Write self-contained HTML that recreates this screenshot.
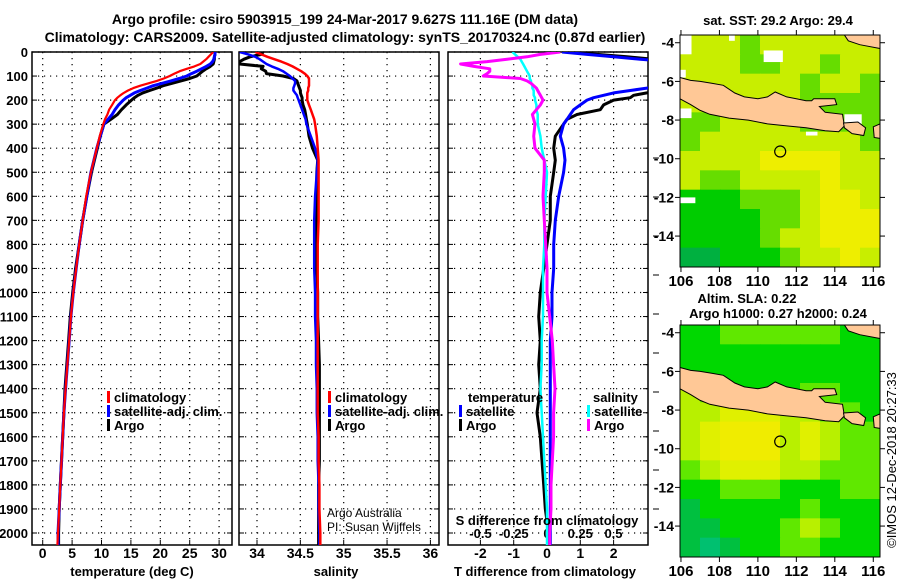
<!DOCTYPE html>
<html><head><meta charset="utf-8">
<style>
html,body{margin:0;padding:0;background:#fff;}
svg{display:block;font-family:"Liberation Sans",sans-serif;}
.b{font-weight:bold;}
</style></head>
<body>
<svg id="fig" width="900" height="580" viewBox="0 0 900 580" xmlns="http://www.w3.org/2000/svg">
<text x="345" y="24" text-anchor="middle" font-size="14" class="b">Argo profile: csiro 5903915_199 24-Mar-2017 9.627S 111.16E (DM data)</text>
<text x="345" y="42" text-anchor="middle" font-size="14" class="b">Climatology: CARS2009. Satellite-adjusted climatology: synTS_20170324.nc (0.87d earlier)</text>
<g id="g"></g>
</svg>
<script>
// ---------- profile data ----------
const depthLevels = [0,10,20,30,40,50,60,70,80,90,100,110,120,130,140,150,160,170,180,190,200,220,240,260,280,300,350,400,450,500,600,700,800,900,1000,1100,1200,1300,1400,1500,1600,1700,1800,1900,2000,2050];
const tempClim = [29.0,28.6,28.2,27.8,27.3,26.8,25.8,24.5,23.3,22.4,21.6,20.6,19.4,18.0,16.6,15.4,14.5,13.8,13.2,12.7,12.3,11.8,11.3,11.0,10.6,10.3,9.7,9.2,8.7,8.2,7.4,6.8,6.2,5.7,5.2,4.8,4.5,4.2,3.9,3.6,3.4,3.2,3.0,2.8,2.6,2.5];
const tempSat = [29.3,29.3,29.2,29.1,28.9,28.5,27.8,27.0,26.2,25.3,24.5,23.2,21.8,20.3,18.8,17.7,16.6,15.6,14.9,14.2,13.7,12.9,12.3,11.8,11.1,10.4,9.8,9.2,8.7,8.2,7.5,6.8,6.2,5.7,5.2,4.8,4.5,4.2,3.9,3.6,3.4,3.2,3.0,2.8,2.6,2.6];
const tempArgo = [29.3,29.3,29.2,29.2,29.1,29.0,28.5,27.8,27.2,26.7,26.2,25.0,23.5,22.0,20.5,19.4,18.2,17.0,16.2,15.6,15.1,14.2,13.4,12.7,11.6,10.4,9.8,9.3,8.8,8.3,7.5,6.8,6.2,5.6,5.1,4.7,4.4,4.1,3.8,3.6,3.4,3.2,3.0,2.8,2.7,2.7];
const salClim = [33.98,34.05,34.12,34.20,34.28,34.35,34.41,34.46,34.51,34.55,34.58,34.60,34.60,34.60,34.60,34.59,34.59,34.58,34.58,34.58,34.58,34.60,34.62,34.64,34.66,34.67,34.69,34.70,34.71,34.71,34.71,34.71,34.70,34.70,34.70,34.70,34.70,34.70,34.70,34.70,34.71,34.71,34.72,34.72,34.73,34.73];
const salSat = [33.80,33.90,33.98,34.03,34.07,34.11,34.17,34.24,34.30,34.34,34.38,34.41,34.44,34.44,34.43,34.42,34.42,34.44,34.46,34.47,34.48,34.50,34.52,34.54,34.56,34.57,34.62,34.67,34.70,34.69,34.67,34.66,34.66,34.66,34.67,34.67,34.68,34.68,34.69,34.69,34.70,34.70,34.71,34.71,34.72,34.72];
const salArgo = [34.07,34.05,33.92,33.85,33.80,33.80,34.07,34.05,34.10,34.11,34.30,34.42,34.46,34.47,34.48,34.49,34.50,34.50,34.51,34.52,34.52,34.53,34.55,34.56,34.57,34.58,34.60,34.64,34.70,34.69,34.69,34.68,34.69,34.69,34.70,34.70,34.71,34.72,34.72,34.72,34.72,34.72,34.71,34.71,34.71,34.71];
const tDiffSat = [0.45,1.2,2.0,2.8,3.6,4.0,4.0,4.0,4.0,4.0,4.0,4.0,4.0,4.0,4.0,3.0,2.5,2.0,1.7,1.4,1.2,1.0,0.8,0.7,0.6,0.5,0.4,0.5,0.54,0.5,0.35,0.25,0.2,0.2,0.15,0.15,0.1,0.1,0.1,0.1,0.1,0.1,0.1,0.1,0.1,0.1];
const tDiffArgo = [0.6,1.5,2.4,3.2,4.0,4.0,4.0,4.0,4.0,4.0,4.0,4.0,4.0,4.0,4.0,4.0,3.5,3.0,2.6,2.5,2.0,1.7,1.6,0.9,0.6,0.5,0.25,0.2,0.25,0.2,0.1,0.1,0.0,-0.1,-0.2,-0.25,-0.2,-0.25,-0.2,-0.3,-0.2,-0.15,-0.1,-0.05,0.05,0.05];
const sDiffSat = [-0.26,-0.24,-0.22,-0.20,-0.19,-0.18,-0.17,-0.16,-0.15,-0.14,-0.13,-0.13,-0.12,-0.12,-0.11,-0.11,-0.10,-0.10,-0.10,-0.09,-0.09,-0.08,-0.08,-0.07,-0.07,-0.07,-0.05,-0.04,-0.02,0.0,-0.01,-0.02,-0.02,-0.03,-0.03,-0.03,-0.04,-0.04,-0.05,-0.04,-0.03,-0.02,-0.01,0.0,0.0,0.0];
const sDiffArgo = [0.10,-0.05,-0.15,-0.30,-0.45,-0.65,-0.55,-0.43,-0.43,-0.45,-0.48,-0.20,-0.15,-0.12,-0.10,-0.08,-0.07,-0.06,-0.05,-0.04,-0.03,-0.05,-0.08,-0.11,-0.10,-0.09,-0.10,-0.09,-0.02,-0.02,-0.03,-0.02,-0.01,0.0,0.0,0.02,0.04,0.05,0.06,0.05,0.05,0.04,0.03,0.03,0.02,0.02];
const depthTicks = [0,100,200,300,400,500,600,700,800,900,1000,1100,1200,1300,1400,1500,1600,1700,1800,1900,2000];
const tempTicks = [0,5,10,15,20,25,30];
const salTicks = [34,34.5,35,35.5,36];
const salTickLabels = ["34","34.5","35","35.5","36"];
const tdTicks = [-2,-1,0,1,2];
const sdTicks = [-0.5,-0.25,0,0.25,0.5];
const sdTickLabels = ["-0.5","-0.25","0","0.25","0.5"];
// ---------- map data (values are colour classes) ----------
const mapLons = [106,108,110,112,114,116];
const mapLats = [-4,-6,-8,-10,-12,-14];
const sstGrid = [
[3,3,3,2,3,3,3,3,3,3],
[3,3,3,2,2,3,3,2,3,3],
[3,3,3,3,3,3,2,3,3,2],
[3,3,3,3,3,3,2,2,2,2],
[2,2,3,3,3,3,2,2,2,2],
[2,3,3,3,3,3,3,3,3,2],
[3,3,3,3,4,4,4,4,3,3],
[3,2,2,3,3,3,3,4,3,3],
[1,1,1,2,2,2,3,4,4,3],
[1,1,1,1,2,2,3,4,4,4],
[1,1,1,1,2,3,3,4,4,4],
[0,0,1,1,1,2,3,3,4,3]];
const slaGrid = [
[2,2,3,3,3,3,3,3,2,2],
[2,2,2,2,2,2,2,2,2,2],
[2,2,2,2,2,2,2,2,2,2],
[4,3,2,2,2,2,3,3,2,2],
[4,4,5,5,5,4,4,3,3,2],
[4,5,6,6,6,4,5,4,3,3],
[4,5,6,6,6,4,5,4,3,3],
[3,4,5,5,5,4,4,3,3,3],
[2,2,3,3,3,2,2,2,3,3],
[1,2,2,2,2,2,3,2,2,2],
[1,1,2,2,2,3,4,3,2,2],
[1,0,1,2,2,3,3,2,2,2]];

const NS="http://www.w3.org/2000/svg";
const G=document.getElementById('g');
function mk(tag,attrs,parent){const e=document.createElementNS(NS,tag);for(const k in attrs)e.setAttribute(k,attrs[k]);(parent||G).appendChild(e);return e;}
function txt(x,y,s,size,anchor,parent,bold){const t=mk('text',{x:x,y:y,'font-size':size,'text-anchor':anchor||'middle','font-weight':bold===false?'normal':'bold'},parent);t.textContent=s;return t;}

const TOP=52,BOT=545;
const yD=d=>TOP+d*0.2405;
const xT=v=>42.7+v*5.88;
const xS=v=>257+(v-34)*86.7;
const xTd=v=>547+v*33.3;
const xSd=v=>547+v*133;

function panel(name,x0,x1,vticks,xf,labels,labelY){
  const g=mk('g',{});
  
  
  const cp=mk('clipPath',{id:'cp-'+name},g);mk('rect',{x:x0,y:TOP,width:x1-x0,height:BOT-TOP},cp);
  depthTicks.forEach(d=>{const y=yD(d);
    const l=mk('line',{x1:x0,x2:x1,y1:y,y2:y,stroke:'#000','stroke-width':1.2,'stroke-dasharray':'1.2,4.8'},g);
    
    mk('line',{x1:x0,x2:x0+5,y1:y,y2:y,stroke:'#000'},g);mk('line',{x1:x1-5,x2:x1,y1:y,y2:y,stroke:'#000'},g);});
  vticks.forEach((v,i)=>{const x=xf(v);
    const l=mk('line',{x1:x,x2:x,y1:TOP,y2:BOT,stroke:'#000','stroke-width':1.2,'stroke-dasharray':'1.2,4.8'},g);
    
    mk('line',{x1:x,x2:x,y1:BOT-5,y2:BOT,stroke:'#000'},g);
    if(labels){const t=txt(x,labelY,labels[i],14,'middle',g);}});
  const fr=mk('rect',{x:x0,y:TOP,width:x1-x0,height:BOT-TOP,fill:'none',stroke:'#000','stroke-width':1.5},g);
  
  return g;
}
function series(g,clipName,vals,xf,color,w,name){
  const pts=vals.map((v,i)=>xf(v).toFixed(1)+','+yD(depthLevels[i]).toFixed(1)).join(' ');
  const p=mk('polyline',{points:pts,fill:'none',stroke:color,'stroke-width':w,'clip-path':'url(#cp-'+clipName+')','stroke-linejoin':'round'},g);
  
  
}
function legendItem(g,x,y,color,label){
  mk('rect',{x:x,y:y-11,width:3,height:12,fill:color},g);
  const t=txt(x+7,y,label,13,'start',g);
  
  
}

// Panel 1
const p1=panel('temperature-panel',32,232,tempTicks,xT,tempTicks.map(String),558);
depthTicks.forEach(d=>{const t=txt(28,yD(d)+5,String(d),13,'end',p1);});
series(p1,'temperature-panel',tempArgo,xT,'#000',3,'temp-argo-line');
series(p1,'temperature-panel',tempSat,xT,'#0000ff',3,'temp-satellite-line');
series(p1,'temperature-panel',tempClim,xT,'#ff0000',2.2,'temp-climatology-line');
legendItem(p1,107,402,'#ff0000','climatology');
legendItem(p1,107,416,'#0000ff','satellite-adj. clim.');
legendItem(p1,107,430,'#000','Argo');
let t=txt(132,576,'temperature (deg C)',13,'middle',p1);

// Panel 2
const p2=panel('salinity-panel',239,439,salTicks,xS,salTickLabels,558);
series(p2,'salinity-panel',salArgo,xS,'#000',3,'sal-argo-line');
series(p2,'salinity-panel',salSat,xS,'#0000ff',2.5,'sal-satellite-line');
series(p2,'salinity-panel',salClim,xS,'#ff0000',2.5,'sal-climatology-line');
legendItem(p2,328,402,'#ff0000','climatology');
legendItem(p2,328,416,'#0000ff','satellite-adj. clim.');
legendItem(p2,328,430,'#000','Argo');
t=txt(327,517,'Argo Australia',12,'start',p2,false);
t=txt(327,531,'PI: Susan Wijffels',12,'start',p2,false);
t=txt(336,576,'salinity',13,'middle',p2);

// Panel 3
const p3=panel('difference-panel',448,648,tdTicks,xTd,tdTicks.map(String),558);
sdTicks.forEach((v,i)=>{const tt=txt(xSd(v),538,sdTickLabels[i],13,'middle',p3);});
series(p3,'difference-panel',tDiffArgo,xTd,'#000',3,'tdiff-argo-line');
series(p3,'difference-panel',tDiffSat,xTd,'#0000ff',3,'tdiff-satellite-line');
series(p3,'difference-panel',sDiffSat,xSd,'#00ffff',2.5,'sdiff-satellite-line');
series(p3,'difference-panel',sDiffArgo,xSd,'#ff00ff',3,'sdiff-argo-line');
t=txt(468,402,'temperature',13,'start',p3);
legendItem(p3,459,416,'#0000ff','satellite');
legendItem(p3,459,430,'#000','Argo');
t=txt(593,402,'salinity',13,'start',p3);
legendItem(p3,587,416,'#00ffff','satellite');
legendItem(p3,587,430,'#ff00ff','Argo');
t=txt(547,525,'S difference from climatology',13,'middle',p3);
t=txt(545,576,'T difference from climatology',13,'middle',p3);
for(let y=158;y<=530;y+=39){mk('line',{x1:653,x2:659,y1:y,y2:y,stroke:'#000'});}

// ---------- maps ----------
const LON0=105.95,LON1=116.35,LAT0=-3.6,LAT1=-15.6;
function mapPanel(name,top,grid,colors,title1,title2,whites){
  const X0=680,X1=880,Y0=top,Y1=top+232;
  const mx=lon=>X0+(lon-LON0)/(LON1-LON0)*(X1-X0);
  const my=lat=>Y0+(lat-LAT0)/(LAT1-LAT0)*(Y1-Y0);
  const poly=(pts,nm)=>{const p=mk('polygon',{points:pts.map(q=>mx(q[0]).toFixed(1)+','+my(q[1]).toFixed(1)).join(' '),fill:'#ffc896',stroke:'#000','stroke-width':1},g);
    };
  const g=mk('g',{});
  
  
  const rows=grid.length,cols=grid[0].length;
  const cw=(X1-X0)/cols,ch=(Y1-Y0)/rows;
  grid.forEach((row,r)=>row.forEach((v,c)=>{
    const cell=mk('rect',{x:X0+c*cw,y:Y0+r*ch,width:cw+0.5,height:ch+0.5,fill:colors[v]},g);
    
    
  }));
  (whites||[]).forEach(w=>mk('rect',{x:mx(w[0]),y:my(w[1]),width:w[2]*19.2,height:w[3]*19.3,fill:'#fff'},g));
  poly([[105.95,-5.8],[106.5,-5.95],[107,-6.0],[107.6,-6.1],[108.2,-6.2],[108.8,-6.6],[109.3,-6.8],[110.0,-6.9],[110.5,-6.8],[110.9,-6.55],[111.5,-6.8],[112.0,-6.9],[112.5,-7.0],[112.8,-7.0],[112.9,-6.9],[114.0,-6.9],[114.1,-7.2],[113.2,-7.3],[113.5,-7.6],[114.4,-7.7],[114.5,-8.3],[114.2,-8.6],[113.5,-8.55],[112.5,-8.4],[111.5,-8.3],[110.5,-8.2],[109.5,-8.0],[108.5,-7.9],[107.5,-7.7],[107.0,-7.5],[106.5,-7.2],[105.95,-6.9]],'java-landmass');
  poly([[114.45,-8.15],[115.2,-8.1],[115.6,-8.4],[115.5,-8.8],[114.9,-8.7],[114.5,-8.4]],'bali-landmass');
  poly([[116.0,-8.35],[116.35,-8.2],[116.35,-8.95],[116.05,-8.9]],'lombok-landmass');
  poly([[114.5,-3.6],[116.35,-3.6],[116.35,-4.3],[115.3,-4.1],[114.7,-3.9]],'kalimantan-landmass');
  const c=mk('circle',{cx:mx(111.16),cy:my(-9.627),r:5.5,fill:'none',stroke:'#000','stroke-width':1.2},g);
  
  mk('rect',{x:X0,y:Y0,width:X1-X0,height:Y1-Y0,fill:'none',stroke:'#000','stroke-width':1},g);
  mapLons.forEach(l=>{const x=mx(l);mk('line',{x1:x,x2:x,y1:Y1,y2:Y1+5,stroke:'#000'},g);mk('line',{x1:x,x2:x,y1:Y0-5,y2:Y0,stroke:'#000'},g);
    const tt=txt(x,Y1+19,String(l),15,'middle',g);});
  mapLats.forEach(l=>{const y=my(l);mk('line',{x1:X0-5,x2:X0,y1:y,y2:y,stroke:'#000'},g);mk('line',{x1:X1,x2:X1+5,y1:y,y2:y,stroke:'#000'},g);
    const tt=txt(674,y+5,String(l),14,'end',g);});
  let a=txt(title1[1],title1[2],title1[0],13,'middle',g);
  if(title2){a=txt(title2[1],title2[2],title2[0],13,'middle',g);}
}
const sstColors=['#00b040','#00cc00','#66dd00','#c8ee00','#eeee00'];
const slaColors=['#00c070','#00c040','#00d800','#60e800','#b8f000','#e0f000','#f0ec00'];
mapPanel('sst-map',35,sstGrid,sstColors,['sat. SST: 29.2 Argo: 29.4',778,25],null,
  [[105.95,-3.6,0.6,1.0],[108.5,-3.6,0.3,0.3],[110.3,-4.4,1.0,0.6],[105.95,-5.4,0.3,0.4],[105.95,-7.4,0.6,0.5],[112.5,-8.6,0.6,0.2],[114.5,-7.7,0.9,0.5],[105.95,-12.0,0.8,0.3]]);
mapPanel('sla-map',325,slaGrid,slaColors,['Altim. SLA: 0.22',747,303],['Argo h1000: 0.27 h2000: 0.24',778,318],null);
t=mk('text',{x:0,y:0,'font-size':13,'text-anchor':'middle',transform:'translate(896,460) rotate(-90)'});
t.textContent='©IMOS 12-Dec-2018 20:27:33';


</script>
</body></html>
